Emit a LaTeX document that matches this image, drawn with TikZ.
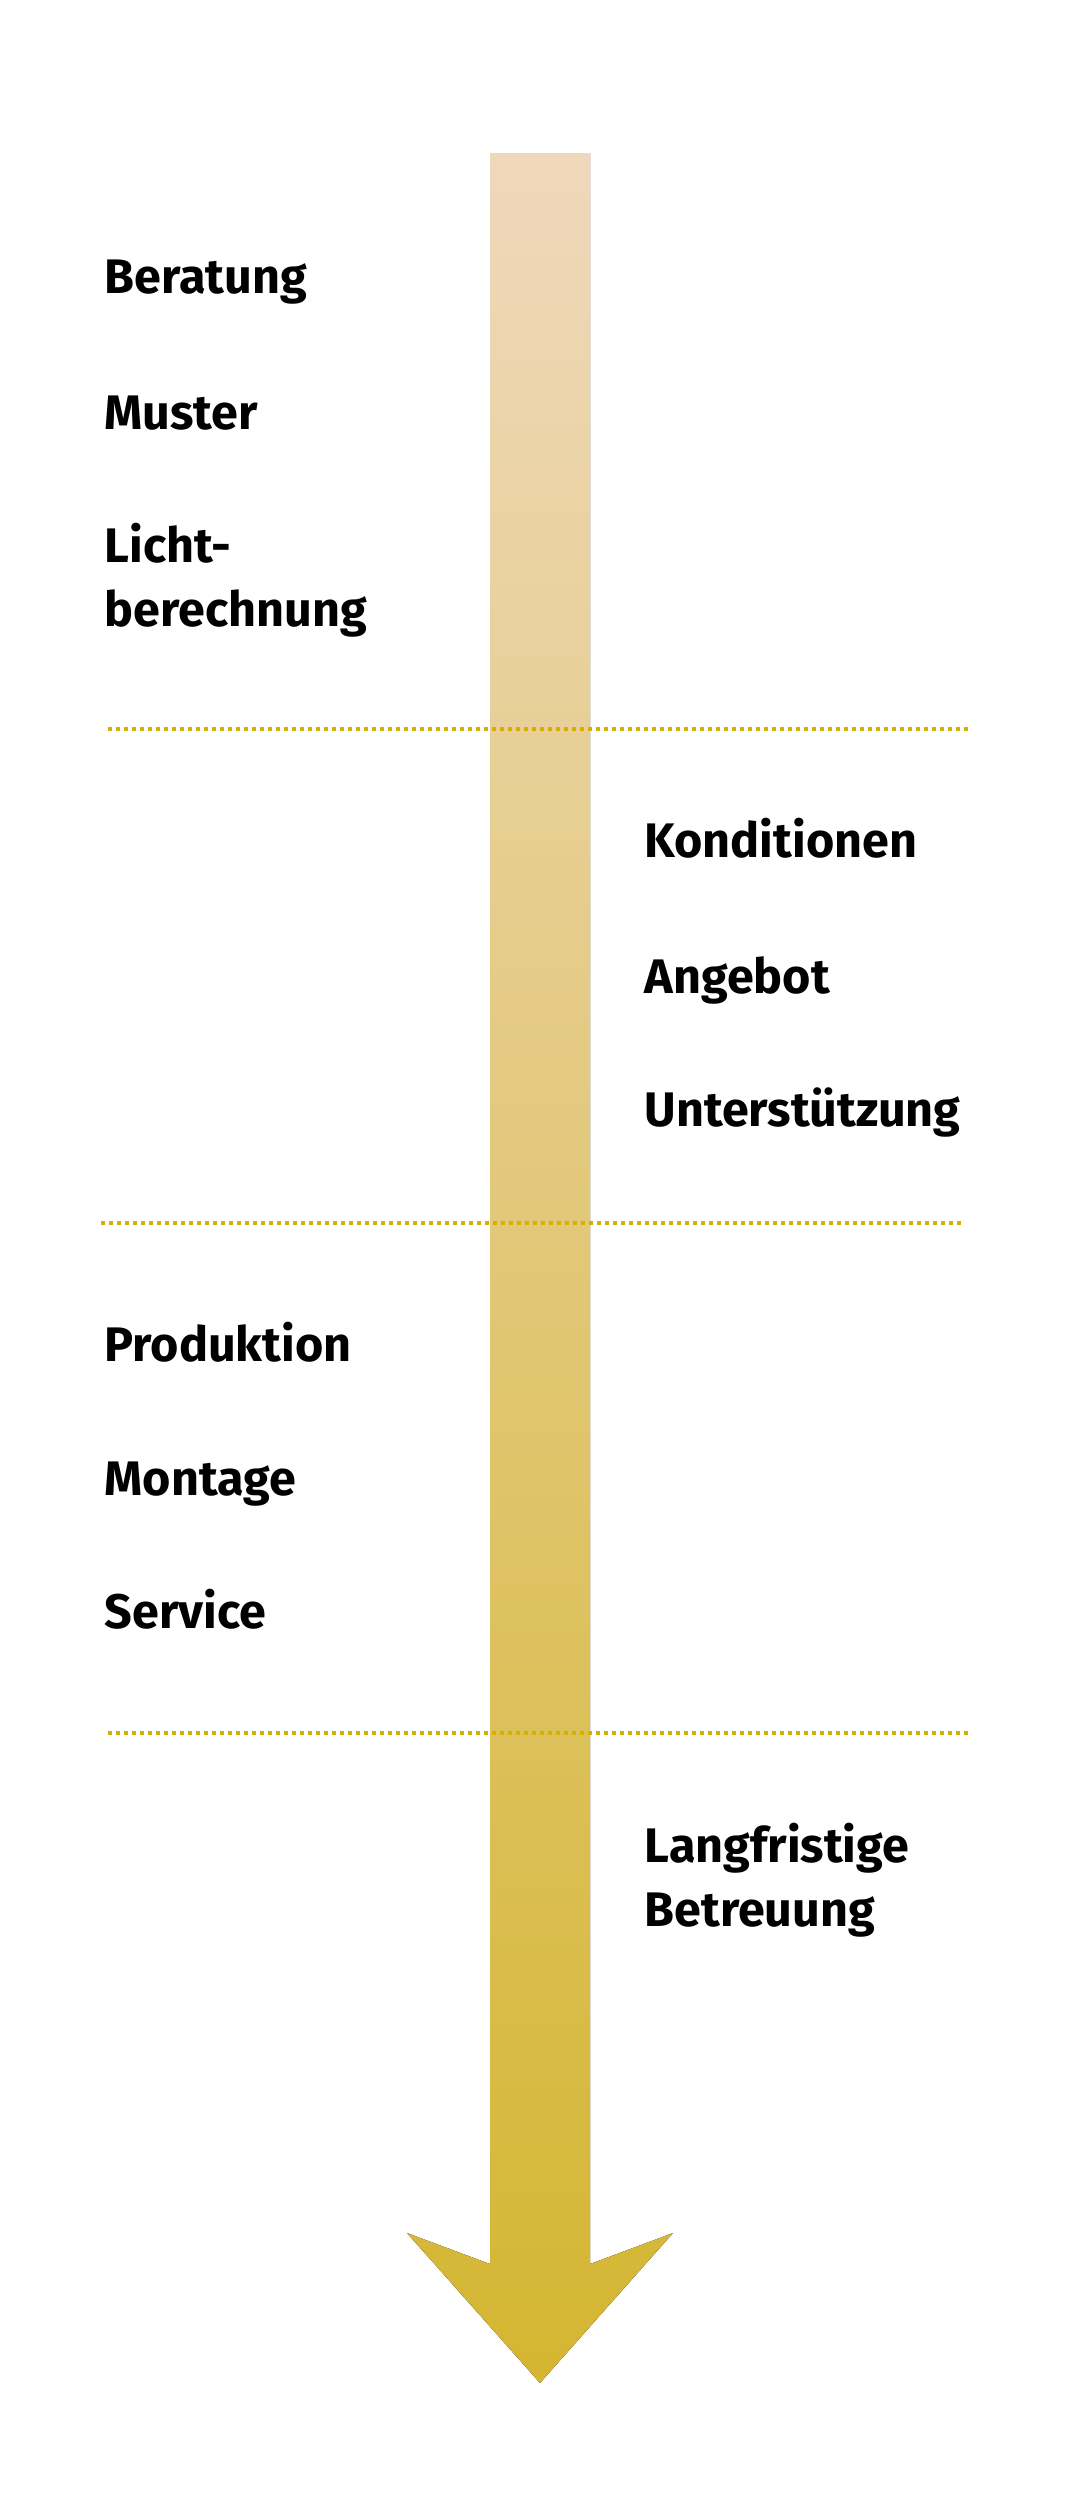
\documentclass[tikz,border=0pt]{standalone}
\usepackage{fontspec}
\setmainfont{Fira Sans}
\definecolor{sandtop}{HTML}{EFD8BB}
\definecolor{goldbottom}{HTML}{D4B631}
\definecolor{golddots}{HTML}{D4B000}

\begin{document}
\begin{tikzpicture}[x=0.1mm,y=-0.1mm]
	\useasboundingbox (0,0) rectangle (1080,2520);
	% big arrow
	\fill[top color=sandtop,bottom color=goldbottom] (490,153) -- (590,153) -- (590,2264) -- (673,2233) -- (540,2383) -- (407,2233) -- (490,2264) -- cycle;
	% separators
	\begin{scope}[line width=0.4mm,dash pattern=on 0.4mm off 0.4mm,golddots]
	\draw (108,729) -- (968,729);
	\draw (101,1223) -- (962,1223);
	\draw (108,1733) -- (968,1733);
	\end{scope}
	\begin{scope}[every node/.style={anchor=base west,inner sep=0pt,align=left,font=\fontsize{13.8}{18.2}\selectfont\bfseries}]
	\node (B) at (104,293) {Beratung};
	\node (M) at (104,429) {Muster};
	\node (L) at (104,626) {Licht-\\berechnung};
	\node (K) at (644,857) {Konditionen};
	\node (A) at (644,993) {Angebot};
	\node (U) at (644,1126) {Unterstützung};
	\node (P) at (104,1361) {Produktion};
	\node (Mo) at (104,1495) {Montage};
	\node (S) at (104,1628) {Service};
	\node (LB) at (644,1926) {Langfristige\\Betreuung};
	\end{scope}
\end{tikzpicture}
\end{document}
